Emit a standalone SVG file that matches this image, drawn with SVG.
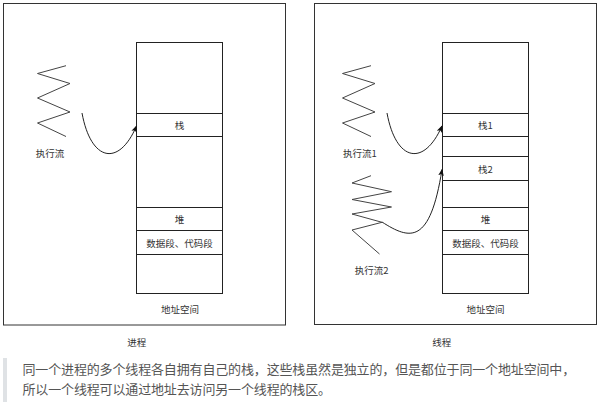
<svg xmlns="http://www.w3.org/2000/svg" width="601" height="402" viewBox="0 0 601 402">
<style>
.frame{fill:#fff;stroke:#333;stroke-width:1}
.cell{fill:#fff;stroke:#222;stroke-width:1}
.zig{fill:none;stroke:#444;stroke-width:1;stroke-linejoin:round}
.edge{fill:none;stroke:#222;stroke-width:1}
.lbl{font-family:"Noto Sans CJK SC","Liberation Sans",sans-serif;font-size:9.5px;fill:#333;text-anchor:middle;dominant-baseline:central}
.note{font-family:"Noto Sans CJK SC","Liberation Sans",sans-serif;font-size:13px;fill:#555;letter-spacing:-0.15px}
</style>
<defs>
<marker id="arr" viewBox="0 0 10 10" refX="9" refY="5" markerWidth="7" markerHeight="7" orient="auto" markerUnits="userSpaceOnUse">
<path d="M0,1 L10,5 L0,9 L2.5,5 Z" fill="#111"/>
</marker>
</defs>
<rect width="601" height="402" fill="#fff"/>

<g id="process-frame">
<rect class="frame" x="3.5" y="3.5" width="282" height="321.5"/>
</g>
<g id="thread-frame">
<rect class="frame" x="314.5" y="3.5" width="282" height="321"/>
</g>

<g id="p-addr">
<rect class="cell" x="136.5" y="42.5" width="86" height="71"/>
<rect class="cell" x="136.5" y="113.5" width="86" height="23"/>
<rect class="cell" x="136.5" y="136.5" width="86" height="71"/>
<rect class="cell" x="136.5" y="207.5" width="86" height="23"/>
<rect class="cell" x="136.5" y="230.5" width="86" height="24"/>
<rect class="cell" x="136.5" y="254.5" width="86" height="39"/>
<text class="lbl" x="179.5" y="125">栈</text>
<text class="lbl" x="179.5" y="219">堆</text>
<text class="lbl" x="179.5" y="242.5">数据段、代码段</text>
</g>
<g id="p-addr-label"><text class="lbl" x="180" y="309">地址空间</text></g>
<g id="p-flow">
<path class="zig" d="M66,65.7 L37.5,73.5 L70,83.5 L37.5,98 L70,112 L37.5,123 L66,136.5"/>
<text class="lbl" x="50" y="153">执行流</text>
</g>
<g id="p-title"><text class="lbl" x="136.7" y="342">进程</text></g>

<g id="t-addr">
<rect class="cell" x="442.5" y="42.5" width="86" height="71"/>
<rect class="cell" x="442.5" y="113.5" width="86" height="23"/>
<rect class="cell" x="442.5" y="136.5" width="86" height="20"/>
<rect class="cell" x="442.5" y="156.5" width="86" height="24"/>
<rect class="cell" x="442.5" y="180.5" width="86" height="27"/>
<rect class="cell" x="442.5" y="207.5" width="86" height="23"/>
<rect class="cell" x="442.5" y="230.5" width="86" height="24"/>
<rect class="cell" x="442.5" y="254.5" width="86" height="39"/>
<text class="lbl" x="485.5" y="125">栈1</text>
<text class="lbl" x="485.5" y="168.5">栈2</text>
<text class="lbl" x="485.5" y="219">堆</text>
<text class="lbl" x="485.5" y="242.5">数据段、代码段</text>
</g>
<g id="t-addr-label"><text class="lbl" x="485.5" y="309">地址空间</text></g>
<g id="t-flow1">
<path class="zig" d="M371,65.7 L342.5,73.5 L375,83.5 L342.5,98 L375,112 L342.5,123 L371,136.5"/>
<text class="lbl" x="360" y="153">执行流1</text>
</g>
<g id="t-flow2">
<path class="zig" d="M371,175.7 L352,183 L391.5,191.7 L352,199.5 L391.5,207 L352,214 L382,222.3 L352,230 L379.5,254"/>
<text class="lbl" x="371.7" y="270">执行流2</text>
</g>
<g id="t-title"><text class="lbl" x="441.7" y="342">线程</text></g>

<g id="connectors">
<path class="edge" d="M82,113 C91,162 119,167 136.5,126" marker-end="url(#arr)"/>
<path class="edge" d="M387,113 C396,162 424,167 442,126" marker-end="url(#arr)"/>
<path class="edge" d="M382,222 C410,240 430,245 442,169.5" marker-end="url(#arr)"/>
</g>

<g id="note">
<rect x="3" y="358" width="4" height="44" fill="#dfe2e5"/>
<text class="note" x="22.5" y="374">同一个进程的多个线程各自拥有自己的栈，这些栈虽然是独立的，但是都位于同一个地址空间中，</text>
<text class="note" x="22.5" y="394">所以一个线程可以通过地址去访问另一个线程的栈区。</text>
</g>
</svg>
